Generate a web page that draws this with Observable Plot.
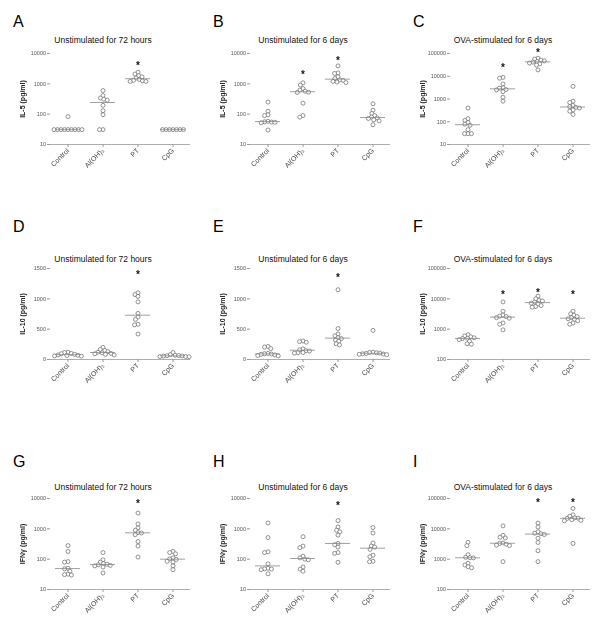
<!DOCTYPE html>
<html><head><meta charset="utf-8">
<script src="https://cdn.jsdelivr.net/npm/d3@7"></script>
<script src="https://cdn.jsdelivr.net/npm/@observablehq/plot@0.6"></script>
<style>
html,body{margin:0;padding:0;background:#fff;overflow:hidden;}
#chart{position:relative;width:600px;height:637px;font-family:"Liberation Sans",Arial,sans-serif;}
.letter{position:absolute;font-size:16px;line-height:16px;color:#000;}
.title{position:absolute;font-size:8.5px;line-height:10px;text-align:center;width:206px;color:#111;white-space:nowrap;}
.panel{position:absolute;}
.panel svg{filter:grayscale(1);}
.panel svg [aria-label="y-axis label"]{font-size:7px;font-weight:bold;fill:#222;}
</style></head>
<body><div id="chart"></div>
<script>
const groups = ["Control", "Al(OH)₃", "PT", "CpG"];
const letters = ["A","B","C","D","E","F","G","H","I"];
const titles = ["Unstimulated for 72 hours","Unstimulated for 6 days","OVA-stimulated for 6 days"];
const yLabels = ["IL-5 (pg/ml)","IL-10 (pg/ml)","IFNγ (pg/ml)"];
const ticksLog4 = [10,100,1000,10000];
const ticksLog5 = [10,100,1000,10000,100000];
const ticksLog100 = [100,1000,10000,100000];
const ticksLin = [0,500,1000,1500];

// values per group: Control, Al(OH)3, PT, CpG
const A = [
 [31,31,31,31,31,31,31,31,31,83],
 [600,410,340,310,290,195,130,96,31,31],
 [2400,2100,1850,1700,1550,1400,1300,1250,1200,1200],
 [31,31,31,31,31,31,31]
];
const B = [
 [250,125,95,90,58,56,55,54,52,30],
 [1080,910,700,620,570,530,520,230,90,80],
 [3900,2300,2200,1700,1500,1350,1300,1200,1150,1100],
 [220,135,105,90,80,75,72,65,60,45]
];
const C = [
 [400,136,114,93,78,70,45,30,30,30],
 [8900,8200,4600,3100,3000,2600,2500,2100,1200,800],
 [62000,57000,51000,47000,44000,42000,38000,35000,31000,19000],
 [3600,800,700,520,460,430,400,330,290,210]
];
const D = [
 [120,115,100,95,85,75,70,65,60,55],
 [200,165,150,130,120,110,100,95,85,75],
 [1100,1070,1040,950,760,700,660,580,570,420],
 [115,80,70,65,62,58,55,50,48,45]
];
const E = [
 [215,205,180,100,95,90,85,75,65,60],
 [305,295,285,175,160,145,140,115,110,105],
 [1150,510,420,390,360,345,320,300,260,240],
 [480,120,115,110,105,100,95,90,85,80]
];
const F = [
 [660,600,560,520,500,490,450,400,330,320],
 [7900,3900,2900,2700,2600,2400,2300,1600,1450,950],
 [12300,10000,9000,8500,7800,7200,6800,6000,5600,5300],
 [3900,3200,2900,2600,2400,2200,2100,1900,1600,1450]
];
const G = [
 [280,180,83,80,50,48,40,32,31,30],
 [165,95,80,72,68,65,62,60,55,35],
 [3300,1450,1070,900,750,730,640,380,270,117],
 [180,165,150,110,102,98,85,80,60,45]
];
const H = [
 [1560,515,175,165,70,50,48,47,45,33],
 [550,270,240,125,110,100,95,55,47,40],
 [1870,1150,900,800,620,330,300,250,165,155,79],
 [1100,730,340,270,250,210,135,120,85,82]
];
const I = [
 [3600,2800,1400,1150,1120,1100,730,640,560,520],
 [12500,6100,5300,5000,3400,3300,3100,2900,2800,830],
 [15500,11500,8000,7200,6900,6500,4900,3550,1900,830],
 [47000,29000,26000,23000,22500,22000,20000,19000,18500,3300]
];

// significance stars: group and level (data units)
const starsA = [["PT",4700]];
const starsB = [["Al(OH)₃",2400],["PT",7200]];
const starsC = [["Al(OH)₃",29000],["PT",140000]];
const starsD = [["PT",1440]];
const starsE = [["PT",1385]];
const starsF = [["Al(OH)₃",16500],["PT",18800],["CpG",16500]];
const starsG = [["PT",8400]];
const starsH = [["PT",6800]];
const starsI = [["PT",86000],["CpG",86000]];

const panels = [
 {data:A, stars:starsA, type:"log", domain:[10,10000], ticks:ticksLog4},
 {data:B, stars:starsB, type:"log", domain:[10,10000], ticks:ticksLog4},
 {data:C, stars:starsC, type:"log", domain:[10,100000], ticks:ticksLog5},
 {data:D, stars:starsD, type:"linear", domain:[0,1500], ticks:ticksLin},
 {data:E, stars:starsE, type:"linear", domain:[0,1500], ticks:ticksLin},
 {data:F, stars:starsF, type:"log", domain:[100,100000], ticks:ticksLog100},
 {data:G, stars:starsG, type:"log", domain:[10,10000], ticks:ticksLog4},
 {data:H, stars:starsH, type:"log", domain:[10,10000], ticks:ticksLog4},
 {data:I, stars:starsI, type:"log", domain:[100,100000], ticks:ticksLog100}
];

const chart = document.getElementById("chart");
const plotTops = [53, 268, 498];
const letterBaselines = [27, 232, 467];
const titleBaselines = [43, 262, 490];
const mt = 20, ph = 91, mb = 48;

panels.forEach((p, i) => {
  const col = i % 3, row = Math.floor(i / 3);
  const rows = p.data.flatMap((vals, gi) => vals.map(v => ({g: groups[gi], v})));
  const starRows = p.stars.map(([g, v]) => ({g, v}));
  const plot = Plot.plot({
    width: 200, height: mt + ph + mb,
    marginTop: mt, marginBottom: mb, marginLeft: 50, marginRight: 10,
    style: {fontFamily: "Liberation Sans, Arial, sans-serif", background: "transparent", overflow: "visible"},
    fx: {domain: groups, padding: 0},
    y: {type: p.type, domain: p.domain},
    marks: [
      Plot.ruleY([p.domain[0]], {stroke: "#999", strokeWidth: 0.8}),
      Plot.axisY({ticks: p.ticks, tickFormat: d3.format("d"), tickSize: 3, tickPadding: 1.5, fontSize: 5.5,
        fill: "#555", stroke: "#999", line: true, label: yLabels[row], labelAnchor: "center", labelOffset: 30, labelArrow: "none"}),
      Plot.axisFx({anchor: "bottom", tickRotate: -45, tickSize: 3, tickPadding: 2, fontSize: 7, label: null, fill: "#444", stroke: "#999"}),
      Plot.dot(rows, Plot.dodgeX({anchor: "middle", padding: -0.5, fx: "g", y: "v", r: 2, fill: "white", stroke: "#666", strokeWidth: 0.7})),
      Plot.ruleY(rows, Plot.groupZ({y: "median"}, {fx: "g", y: "v", stroke: "#888", strokeWidth: 0.8, insetLeft: 5, insetRight: 5})),
      Plot.text(starRows, {fx: "g", y: "v", text: () => "*", fontSize: 10, fontWeight: "bold", fill: "#111", dy: 2.5})
    ]
  });
  const wrap = document.createElement("div");
  wrap.className = "panel";
  wrap.style.left = (col * 200) + "px";
  wrap.style.top = (plotTops[row] - mt) + "px";
  wrap.appendChild(plot);
  chart.appendChild(wrap);

  const L = document.createElement("div");
  L.className = "letter";
  L.textContent = letters[i];
  L.style.left = (col * 200 + 13) + "px";
  L.style.top = (letterBaselines[row] - 13.5) + "px";
  chart.appendChild(L);

  const T = document.createElement("div");
  T.className = "title";
  T.textContent = titles[col];
  T.style.left = (col * 200) + "px";
  T.style.top = (titleBaselines[row] - 8) + "px";
  chart.appendChild(T);
});
</script>
</body></html>
